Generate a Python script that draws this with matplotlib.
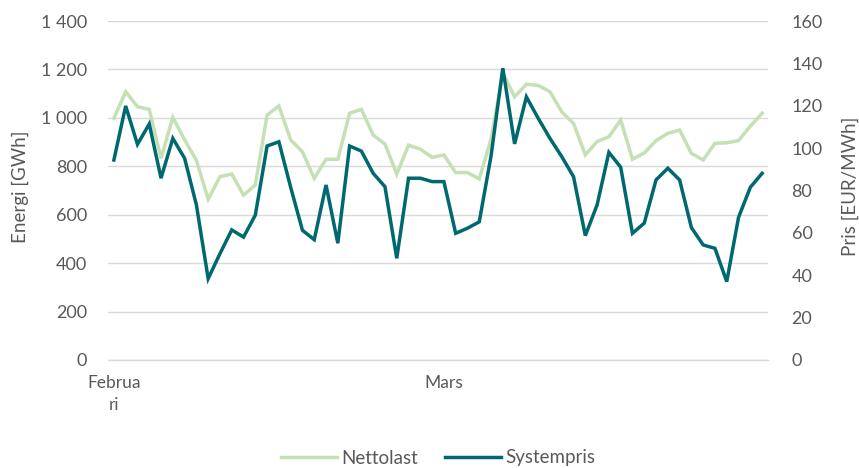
import matplotlib
matplotlib.use("Agg")
import matplotlib.pyplot as plt
from matplotlib.ticker import FixedLocator

plt.rcParams['font.family'] = ['Lato', 'DejaVu Sans']

# Daily values, 1 February - 28 March
nettolast = [998, 1108, 1046, 1035, 833, 1002, 909, 825, 664, 757, 768, 681, 723, 1012,
             1049, 909, 860, 750, 829, 829, 1019, 1035, 929, 892, 768, 887, 871, 837,
             847, 774, 774, 748, 912, 1185, 1087, 1139, 1134, 1108, 1025, 977, 847, 902,
             922, 991, 829, 855, 906, 936, 950, 853, 826, 895, 897, 906, 966, 1019]
systempris = [94.4, 119.9, 101.8, 111.4, 85.8, 104.6, 95.2, 73.2, 38.4, 50.2, 61.4, 58.0,
              68.4, 101.0, 103.0, 81.5, 61.2, 56.8, 82.6, 55.1, 101.0, 98.6, 88.1, 81.8,
              48.0, 85.8, 85.8, 84.2, 84.2, 59.8, 62.2, 65.2, 96.3, 137.7, 102.0, 124.2,
              114.1, 104.6, 96.0, 86.5, 58.7, 73.2, 98.0, 91.0, 59.8, 64.6, 85.0, 90.5,
              85.0, 62.5, 54.3, 52.7, 37.0, 67.3, 81.5, 88.1]
month_pos = [0, 28]
month_labels = ["Februa\nri", "Mars"]
energi_ticks = [0, 200, 400, 600, 800, 1000, 1200, 1400]
pris_ticks = [0, 20, 40, 60, 80, 100, 120, 140, 160]

TEXT = "#595959"
GRID = "#D9D9D9"
LIGHT = "#C5E0B4"
DARK = "#006970"

days = list(range(len(nettolast)))

fig = plt.figure(figsize=(8.59, 4.68), dpi=100)
ax = fig.add_axes([108 / 859, 1 - 360 / 468, 660 / 859, 339 / 468])
ax2 = ax.twinx()

l1, = ax.plot(days, nettolast, color=LIGHT, lw=2.5, solid_joinstyle='miter', label="Nettolast")
l2, = ax2.plot(days, systempris, color=DARK, lw=2.5, solid_joinstyle='miter', label="Systempris")

n = len(days)
ax.set_xlim(-0.5, n - 0.5)
ax.set_ylim(0, 1400)
ax2.set_ylim(0, 160)

ax.yaxis.set_major_locator(FixedLocator(energi_ticks))
ax.set_yticklabels([f"{v:,}".replace(",", " ") for v in energi_ticks])
ax2.yaxis.set_major_locator(FixedLocator(pris_ticks))
ax2.set_yticklabels([str(v) for v in pris_ticks])
ax.set_xticks(month_pos)
ax.set_xticklabels(month_labels, linespacing=1.45)

ax.grid(axis='y', color=GRID, lw=1.0)
ax.set_axisbelow(True)
for a in (ax, ax2):
    for s in a.spines.values():
        s.set_visible(False)

ax.spines['bottom'].set_visible(True)
ax.spines['bottom'].set_color(GRID)
ax.spines['bottom'].set_linewidth(1.0)

ax.tick_params(axis='y', length=0, pad=15, labelsize=13, labelcolor=TEXT)
ax2.tick_params(axis='y', length=0, pad=17, labelsize=13, labelcolor=TEXT)
ax.tick_params(axis='x', length=0, pad=11, labelsize=12.5, labelcolor=TEXT)

fig.text(20 / 859, 1 - 187 / 468, "Energi [GWh]", rotation=90, ha='center', va='center',
         fontsize=13.5, color=TEXT)
fig.text(850 / 859, 1 - 186 / 468, "Pris [EUR/MWh]", rotation=90, ha='center', va='center',
         fontsize=13.5, color=TEXT)

leg = fig.legend(handles=[l1, l2], loc='center', bbox_to_anchor=(438 / 859, 1 - 458 / 468),
                 ncol=2, frameon=False, fontsize=13.5, handlelength=3.0, handletextpad=0.25,
                 columnspacing=1.4)
for t in leg.get_texts():
    t.set_color(TEXT)

fig.savefig("out.png", dpi=100)
